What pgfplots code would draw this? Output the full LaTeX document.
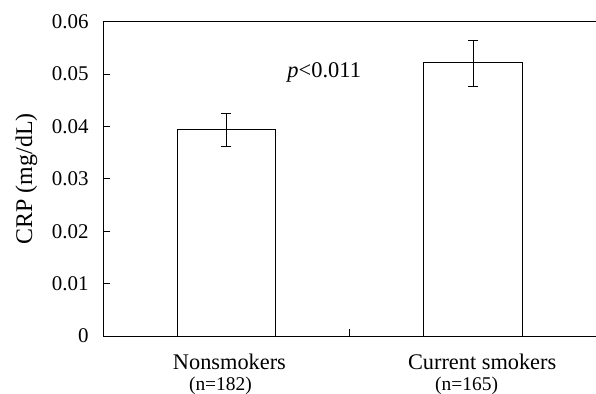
\documentclass[border=0pt]{standalone}
\usepackage{pgfplots}
\pgfplotsset{compat=1.18}
\usepackage{fontspec}
\setmainfont{Liberation Serif}
\usetikzlibrary{calc}
\begin{document}
\begin{tikzpicture}
\begin{axis}[
 scale only axis, width=493bp, height=314bp,
 xmin=0.5, xmax=2.5, ymin=0, ymax=0.06,
 scaled y ticks=false,
 xtick={1.5}, xticklabels={},
 ytick={0,0.01,0.02,0.03,0.04,0.05,0.06},
 yticklabels={0,0.01,0.02,0.03,0.04,0.05,0.06},
 tick align=inside, xtick pos=bottom, ytick pos=left,
 major tick length=7bp,
 tick style={black, line width=0.8bp},
 axis line style={line width=0.8bp},
 yticklabel style={font=\fontsize{21}{24}\selectfont, xshift=-11bp},
 ylabel={CRP (mg/dL)},
 ylabel style={font=\fontsize{24}{28}\selectfont, at={(axis description cs:-0.144,0.5)}, anchor=base},
 clip=false,
]
\addplot[ybar, bar width=98.5bp, fill=white, draw=black, line width=0.8bp,
  error bars/.cd, y dir=both, y explicit,
  error bar style={line width=0.8bp, black},
  error mark options={rotate=90, mark size=5bp, line width=0.8bp, black}]
 table[x=x, y=y, y error plus=ep, y error minus=em] {
 x y ep em
 1 0.0395 0.0029 0.0034
 2 0.05225 0.0042 0.00453
 };
\node[anchor=base, font=\fontsize{22.4}{26}\selectfont, xshift=3bp, yshift=-33.6bp] at (axis cs:1,0) {Nonsmokers};
\node[anchor=base, font=\fontsize{19.5}{22}\selectfont, xshift=-6bp, yshift=-54.3bp] at (axis cs:1,0) {(n=182)};
\node[anchor=base, font=\fontsize{22.4}{26}\selectfont, xshift=9bp, yshift=-33.6bp] at (axis cs:2,0) {Current smokers};
\node[anchor=base, font=\fontsize{19.5}{22}\selectfont, xshift=-6.5bp, yshift=-54.3bp] at (axis cs:2,0) {(n=165)};
\node[anchor=base west, font=\fontsize{22.5}{26}\selectfont, inner sep=0pt] at (axis cs:1.2465,0.04938) {\textit{p}<0.011};
\coordinate (bl) at (rel axis cs:0,0);
\coordinate (tr) at (rel axis cs:1,1);
\end{axis}
\pgfresetboundingbox
\path[use as bounding box] ($(bl)+(-103bp,-57.3bp)$) rectangle ($(tr)+(-0.5bp,21.7bp)$);
\end{tikzpicture}
\end{document}
